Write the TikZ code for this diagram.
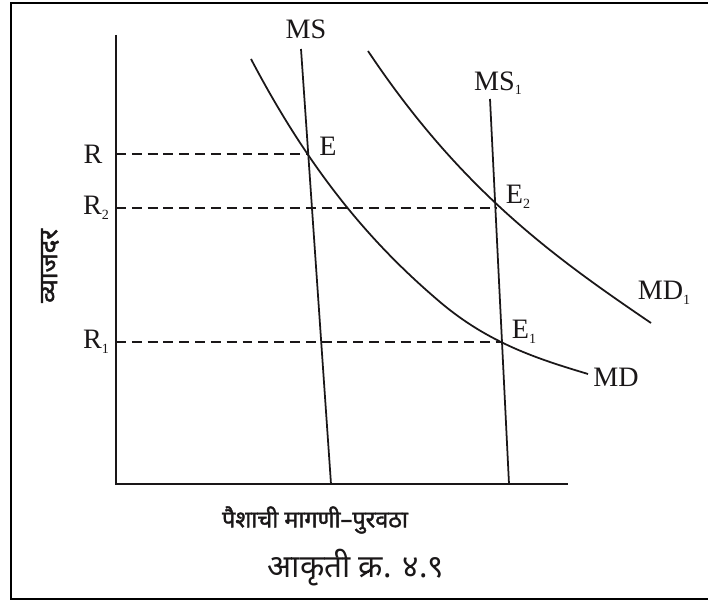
\documentclass[tikz,border=0pt]{standalone}
\usepackage{fontspec}
\setmainfont{Liberation Serif}
\newfontfamily\devafont[Script=Devanagari]{Noto Sans}
\newfontfamily\devabold[Script=Devanagari, FakeBold=1.6]{Noto Sans}
\usetikzlibrary{calc}
\definecolor{inkline}{HTML}{1A1718}
\newcommand\lowsub[1]{\raisebox{-0.35ex}{\fontsize{12}{12}\selectfont #1}}
\tikzset{
  frame/.style={draw=black, line width=1.8pt},
  axis/.style={draw=inkline, line width=1.7pt},
  curve/.style={draw=inkline, line width=1.5pt},
  guide/.style={draw=inkline, line width=1.3pt, dash pattern=on 8.5pt off 5pt},
  guidebold/.style={guide, line width=1.9pt},
  lbl/.style={font=\fontsize{24}{26}\selectfont, text=inkline, inner sep=0pt},
  deva/.style={font=\devafont\fontsize{27}{30}\selectfont, text=inkline, inner sep=0pt},
  devab/.style={deva, font=\devabold\fontsize{20}{24}\selectfont}
}

\begin{document}
\begin{tikzpicture}[x=0.3mm,y=0.3mm]
\useasboundingbox (0,0) rectangle (708,601);

% frame
\draw[frame] (711,2) -- (11,2) -- (11,598) -- (711,598);

% axes
\coordinate (o) at (116,117);
\coordinate (ytop) at (116,566);
\coordinate (xend) at (568,117);
\draw[axis] (ytop) -- (o) -- (xend);

% supply lines
\coordinate (mstop) at (301,552);
\coordinate (msbot) at (331,117);
\coordinate (msatop) at (490,502);
\coordinate (msabot) at (509,117);
\draw[curve] (mstop) -- (msbot);
\draw[curve] (msatop) -- (msabot);

% equilibrium points
\coordinate (e) at (308,447);
\coordinate (ea) at (502,259);
\coordinate (eb) at (496,393);

% demand curves
\coordinate (md0) at (251,542);
\coordinate (md3) at (440,299);
\coordinate (md5) at (588,227);
\draw[curve] (md0) .. controls (314,422) and (377,352.5) .. (md3)
  .. controls (489,257.4) and (539,241.7) .. (md5);

\coordinate (mda0) at (368,550);
\coordinate (mda4) at (651,278);
\draw[curve] (mda0) .. controls (462,409) and (557,342) .. (mda4);

% interest rate guides
\coordinate (r) at (116,447);
\coordinate (rb) at (116,393);
\coordinate (ra) at (116,259);
\draw[guide] (r) -- (e);
\draw[guidebold] (rb) -- (eb);
\draw[guide] (ra) -- (ea);

% labels
\node[lbl] (rlbl) at (93,447) {R};
\node[lbl] (rblbl) at (96,393) {R\lowsub{2}};
\node[lbl] (ralbl) at (96,259) {R\lowsub{1}};
\node[lbl] (elbl) at (328,455) {E};
\node[lbl] (eblbl) at (518,404) {E\lowsub{2}};
\node[lbl] (ealbl) at (524,269) {E\lowsub{1}};
\node[lbl] (mslbl) at (306,572) {MS};
\node[lbl] (msalbl) at (498,518) {MS\lowsub{1}};
\node[lbl] (mdlbl) at (616,224) {MD};
\node[lbl] (mdalbl) at (664,308) {MD\lowsub{1}};

\node[devab, font=\devabold\fontsize{22}{24}\selectfont, rotate=90] (ylbl) at (50,335) {व्याजदर};
\node[devab] (xlbl) at (315,81) {पैशाची मागणी–पुरवठा};
\node[deva] (cap) at (356,33) {आकृती क्र. ४.९};

\end{tikzpicture}
\end{document}
